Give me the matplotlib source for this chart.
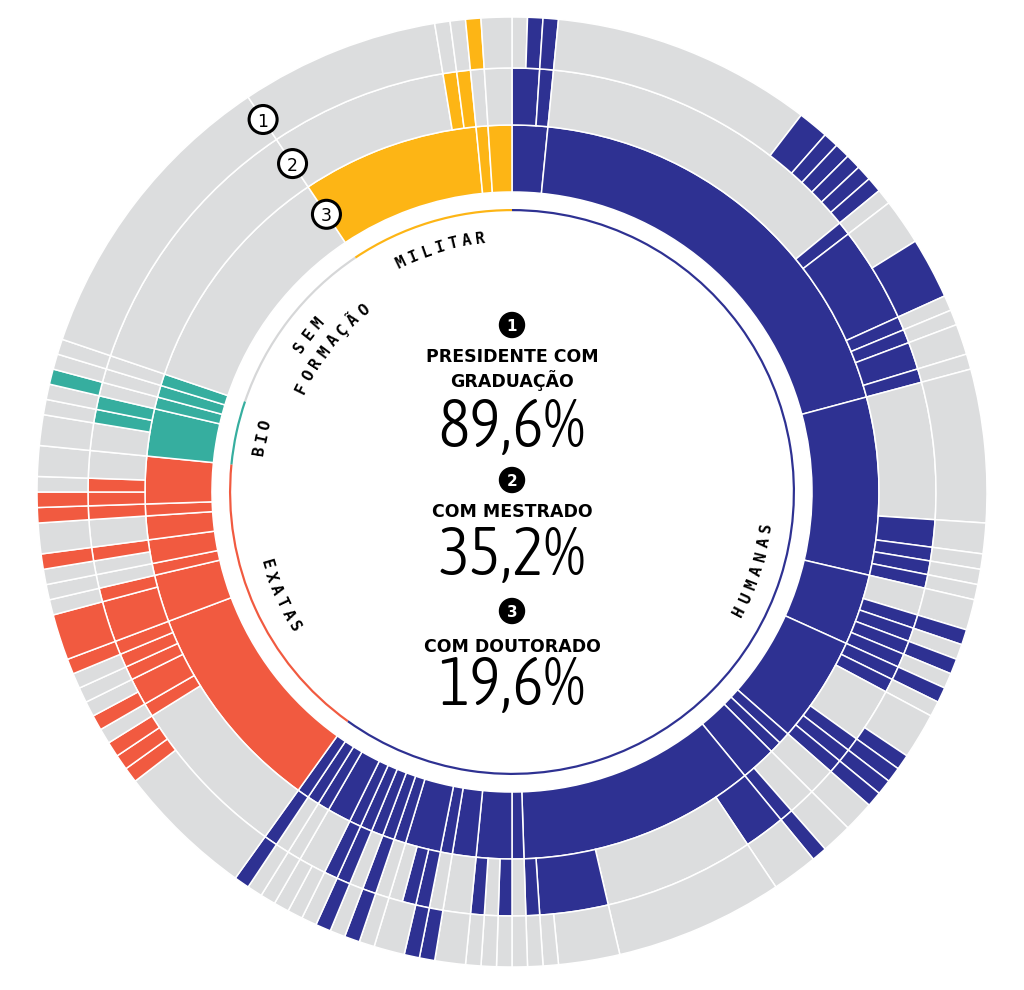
import numpy as np
import matplotlib.pyplot as plt
from matplotlib import font_manager as fm
from matplotlib.patches import Circle

# one unit = one president, counted clockwise from 12 o'clock
# ring 1: graduação, ring 2: mestrado, ring 3: doutorado
# codes: H humanas, E exatas, B bio, M militar, '-' none
GRAD_SIZES = [3, 37, 15, 6, 9, 1, 1, 3, 20, 1, 3, 2, 1, 3, 1, 1, 1, 1, 1, 2, 1, 1, 1,
              18, 4, 1, 2, 2, 1, 4,
              4, 1, 1, 1,
              20,
              15, 1, 2]
GRAD_AREA = 'HHHHHHHHHHHHHHHHHHHHHHH' + 'EEEEEEE' + 'BBBB' + '-' + 'MMM'

MEST_SIZES = [2, 1, 24, 1, 7, 1, 1, 2, 1, 10, 2, 1, 1, 1, 2, 1, 1, 1, 1, 1,
              1, 4, 1, 1, 1, 2, 2, 1, 3, 11, 5, 1, 1, 1, 1, 1, 2, 1, 1, 1,
              1, 1, 1, 1, 1, 1, 2, 1, 1, 1,
              12, 1, 2, 1, 1, 1, 3, 1, 1, 1, 1, 2, 1, 1, 1, 2,
              2, 1, 1, 1, 1, 1,
              20,
              13, 1, 1, 1, 2]
MEST_AREA = ('HH-HHHHHH-' 'HHHH-HHHHH' 'H-HHH--HH-' 'HH-H-H--HH' '--H-HH---H'
             + '-EEEEEEE--E-EEE-' + '-BB---' + '-' + '-MM--')

DOUT_SIZES = [1, 1, 1, 17, 2, 1, 1, 1, 1, 1, 1, 3, 4, 1, 1, 2, 1, 10, 2, 1,
              1, 1, 2, 1, 1, 1, 1, 1, 1, 3, 1, 1, 1, 1, 2, 2, 1, 3, 11, 4,
              1, 1, 1, 1, 1, 1, 2, 1, 1, 2, 1, 1, 1, 1, 1, 1, 1, 1, 1, 1,
              9, 1, 1, 1, 1, 1, 1, 1, 1, 1, 3, 1, 1, 1, 1, 2, 1, 1, 1, 2,
              2, 1, 1, 1, 1, 1,
              20,
              13, 1, 1, 1, 2]
DOUT_AREA = ('-HH-HHHHHH' '--H-------' '---H-H-H--' 'HHHH--H---' '-------HH-' '-H-H-----H'
             + '-EEE-E---EE---E-EE--' + '---B--' + '-' + '---M-')

# thin inner arc, one piece per area of graduação
AREA_SIZES = [115, 32, 7, 20, 18]
AREA_KEYS = ['H', 'E', 'B', 'S', 'M']

TITLES = ['PRESIDENTE COM\nGRADUAÇÃO', 'COM MESTRADO', 'COM DOUTORADO']
VALUES = ['89,6%', '35,2%', '19,6%']

COLORS = {'H': '#2E3192', 'E': '#F15A40', 'B': '#36AE9F', 'M': '#FDB515',
          '-': '#DCDDDE', 'S': '#D6D7D8'}

CX, CY = 512, 498


def narrow_font():
    # pick any condensed / narrow sans that is installed
    good = []
    for f in fm.fontManager.ttflist:
        name = (f.fname + ' ' + f.name).lower()
        if ('condensed' in name or 'narrow' in name) and f.style == 'normal':
            if 'mono' in name or 'serif' in name or 'bold' in name or 'oblique' in name:
                continue
            good.append(f.fname)
    if good:
        good.sort(key=lambda p: ('light' not in p.lower(), len(p)))
        return fm.FontProperties(fname=good[0])
    return fm.FontProperties(family='DejaVu Sans', weight='light')


def ring(ax, sizes, area, radius, width):
    ax.pie(sizes, colors=[COLORS[a] for a in area], radius=radius, center=(CX, CY),
           startangle=90, counterclock=False,
           wedgeprops=dict(width=width, edgecolor='white', linewidth=1.1))


def arc_text(ax, text, theta, r, step, top=True, size=11.5):
    n = len(text)
    for i, ch in enumerate(text):
        if top:
            th = theta + (i - (n - 1) / 2) * step
            rot = -th
        else:
            th = theta - (i - (n - 1) / 2) * step
            rot = 180 - th
        t = np.radians(th)
        ax.text(CX + r * np.sin(t), CY + r * np.cos(t), ch, rotation=rot,
                ha='center', va='center', rotation_mode='anchor',
                fontsize=size, fontweight='bold', family='DejaVu Sans Mono')


def badge(ax, x, y, num, dark):
    if dark:
        ax.add_patch(Circle((x, y), 12.5, facecolor='black', edgecolor='black', zorder=5))
        ax.text(x, y, num, ha='center', va='center_baseline', color='white',
                fontsize=11, fontweight='bold', zorder=6)
    else:
        ax.add_patch(Circle((x, y), 14, facecolor='white', edgecolor='black', lw=2.2, zorder=5))
        ax.text(x, y, num, ha='center', va='center_baseline', color='black',
                fontsize=12.5, zorder=6)


fig = plt.figure(figsize=(10.24, 9.9), dpi=100)
ax = fig.add_axes([0, 0, 1, 1])

ring(ax, GRAD_SIZES, GRAD_AREA, 367, 67)
ring(ax, MEST_SIZES, MEST_AREA, 424, 57)
ring(ax, DOUT_SIZES, DOUT_AREA, 475, 51)
ax.pie(AREA_SIZES, colors=[COLORS[k] for k in AREA_KEYS], radius=283, center=(CX, CY),
       startangle=90, counterclock=False, wedgeprops=dict(width=2.2, linewidth=0))

ax.set_xlim(0, 1024)
ax.set_ylim(0, 990)
ax.set_aspect('equal')
ax.axis('off')

# area labels inside the circle
arc_text(ax, 'MILITAR', 343.5, 255, 3.15)
arc_text(ax, 'SEM', 307.7, 257, 3.4)
arc_text(ax, 'FORMAÇÃO', 308.5, 234, 3.5)
arc_text(ax, 'BIO', 282.3, 256, 2.9)
arc_text(ax, 'EXATAS', 245.9, 256, 3.1, top=False)
arc_text(ax, 'HUMANAS', 107.9, 257, 3.3, top=False)

# circled numbers on the sem formação / militar boundary
edge = np.radians(sum(AREA_SIZES[:4]) / sum(AREA_SIZES) * 360)
for num, r in zip(['1', '2', '3'], [448, 395, 334]):
    badge(ax, CX + r * np.sin(edge), CY + r * np.cos(edge), num, False)

# centre block
nfont = narrow_font()
nfont.set_size(48)
bold = dict(ha='center', va='baseline', fontsize=12.5, fontweight='bold',
            family='DejaVu Sans', linespacing=1.25)

badge(ax, CX, 990 - 325, '1', True)
ax.text(CX, 990 - 387, TITLES[0], **bold)
ax.text(CX, 990 - 447, VALUES[0], ha='center', va='baseline', fontproperties=nfont)

badge(ax, CX, 990 - 480, '2', True)
ax.text(CX, 990 - 517, TITLES[1], **bold)
ax.text(CX, 990 - 575, VALUES[1], ha='center', va='baseline', fontproperties=nfont)

badge(ax, CX, 990 - 611, '3', True)
ax.text(CX, 990 - 652, TITLES[2], **bold)
ax.text(CX, 990 - 705, VALUES[2], ha='center', va='baseline', fontproperties=nfont)

fig.savefig('out.png', dpi=100, facecolor='white')
